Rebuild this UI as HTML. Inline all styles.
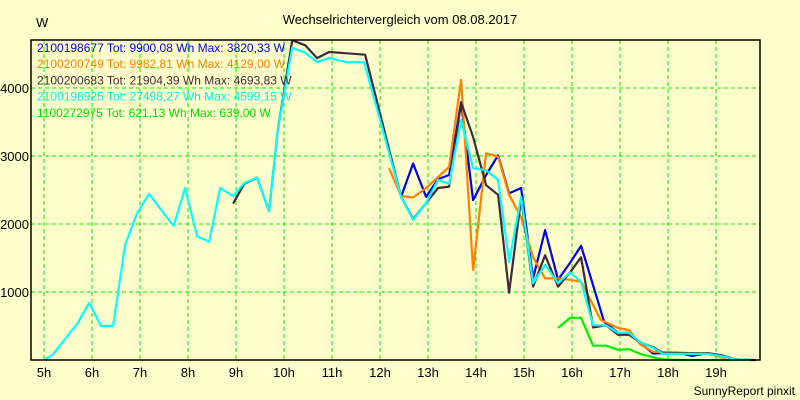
<!DOCTYPE html>
<html><head><meta charset="utf-8"><style>
body{margin:0;background:#ffffcc;}
svg{display:block;font-family:"Liberation Sans",Arial,sans-serif;}
</style></head><body>
<svg id="c" width="800" height="400" xmlns="http://www.w3.org/2000/svg">
<rect x="0" y="0" width="800" height="400" fill="#ffffcc"/>
<text x="400" y="24" font-size="13" text-anchor="middle">Wechselrichtervergleich vom 08.08.2017</text>
<text x="36" y="27" font-size="13">W</text>
<text x="795" y="395" font-size="12" text-anchor="end">SunnyReport pinxit</text>
<g id="grid"></g><g id="series"></g><g id="axes"></g><g id="legend"></g>
</svg>
<script>
const xTicks=[5,6,7,8,9,10,11,12,13,14,15,16,17,18,19];
const yTicks=[1000,2000,3000,4000];
const seriesNames=["2100198677 Tot: 9900,08 Wh Max: 3820,33 W","2100200749 Tot: 9982,81 Wh Max: 4129,00 W","2100200683 Tot: 21904,39 Wh Max: 4693,83 W","2100198925 Tot: 27498,27 Wh Max: 4599,15 W","1100272975 Tot: 621,13 Wh Max: 639,00 W"];
const seriesColors=["#0000ee","#ff8000","#40283c","#00ffff","#00ee00"];
const legendColors=["#0000ee","#ff8000","#40283c","#00eeee","#00dd00"];
const blueT=[12.44,12.69,12.96,13.21,13.44,13.69,13.94,14.21,14.46,14.69,14.94,15.19,15.44,15.71,15.96,16.19,16.67,16.96,17.19,17.42,17.69,18.19,18.5,18.83,19.1,19.4,19.7];
const blueV=[2400,2890,2400,2660,2720,3790,2350,2720,3010,2450,2530,1200,1910,1180,1430,1680,560,400,400,250,95,110,60,100,70,10,0];
const orangeT=[12.19,12.44,12.69,12.96,13.21,13.44,13.69,13.94,14.21,14.46,14.69,14.94,15.19,15.44,15.71,15.96,16.19,16.6,16.96,17.19,17.42,17.69,18.19,18.83,19.1,19.4];
const orangeV=[2820,2410,2390,2530,2690,2840,4120,1320,3040,2990,2430,2100,1510,1200,1200,1180,1150,590,470,440,230,120,110,90,40,10];
const darkT=[8.94,9.17,9.44,9.69,9.87,10.17,10.44,10.69,10.94,11.31,11.69,12.44,12.69,12.96,13.21,13.44,13.69,13.94,14.21,14.46,14.69,14.94,15.19,15.44,15.71,15.96,16.19,16.44,16.71,16.96,17.19,17.42,17.69,17.9,18.19,18.83,19.1,19.4,19.7,19.83];
const darkV=[2300,2590,2680,2190,3380,4700,4630,4440,4530,4510,4490,2400,2070,2310,2530,2550,3790,3280,2570,2430,990,2380,1080,1540,1080,1290,1510,480,510,370,370,260,190,100,100,100,70,10,0,0];
const cyanT=[5.0,5.17,5.7,5.94,6.19,6.44,6.69,6.94,7.19,7.7,7.94,8.19,8.44,8.67,8.94,9.17,9.44,9.69,9.87,10.17,10.44,10.69,10.94,11.31,11.67,12.44,12.69,12.96,13.21,13.44,13.69,13.94,14.21,14.46,14.69,14.94,15.19,15.44,15.71,15.96,16.19,16.44,16.71,16.96,17.19,17.42,17.69,17.9,18.19,18.83,19.1,19.4,19.7];
const cyanV=[0,70,540,840,500,500,1690,2160,2440,1970,2530,1820,1740,2530,2410,2600,2680,2190,3380,4590,4520,4380,4440,4380,4380,2400,2060,2310,2650,2590,3530,2820,2790,2650,1440,2400,1130,1400,1130,1290,1150,510,510,400,400,260,180,90,90,90,60,10,0];
const greenT=[15.71,15.96,16.19,16.44,16.71,16.96,17.19,17.42,17.69,17.9,18.19,19.45];
const greenV=[470,620,620,210,210,150,160,90,40,10,0,0];
const L=31,R=760,T=40,B=360;
const xs=h=>44+48*(h-5);
const ys=v=>B-v*0.068;
const NS="http://www.w3.org/2000/svg";
function mk(tag,attrs,parent){const e=document.createElementNS(NS,tag);for(const k in attrs)e.setAttribute(k,attrs[k]);parent.appendChild(e);return e;}
const grid=document.getElementById('grid'),axes=document.getElementById('axes'),ser=document.getElementById('series'),leg=document.getElementById('legend');
xTicks.forEach(h=>{
  const l=mk('line',{x1:xs(h),x2:xs(h),y1:T,y2:B,stroke:'#00ee00','stroke-dasharray':'4,3'},grid);
  
  
  const t=mk('text',{x:xs(h),y:377,'font-size':13,'text-anchor':'middle'},axes);
  t.textContent=h+'h';
  
  
});
yTicks.forEach(v=>{
  const l=mk('line',{x1:L,x2:R,y1:ys(v),y2:ys(v),stroke:'#00ee00','stroke-dasharray':'4,3'},grid);
  
  
  const t=mk('text',{x:29,y:ys(v)+5,'font-size':13,'text-anchor':'end'},axes);
  t.textContent=v;
  
  
});
const frame=mk('rect',{x:L,y:T,width:R-L,height:B-T,fill:'none',stroke:'#000','stroke-width':1.5},axes);


const data=[[blueT,blueV],[orangeT,orangeV],[darkT,darkV],[cyanT,cyanV],[greenT,greenV]];
const names=['series-2100198677','series-2100200749','series-2100200683','series-2100198925','series-1100272975'];
[0,1,2,4,3].forEach(i=>{
  const [t,v]=data[i];
  const pts=t.map((h,j)=>xs(h).toFixed(1)+','+ys(v[j]).toFixed(1)).join(' ');
  const p=mk('polyline',{points:pts,fill:'none',stroke:seriesColors[i],'stroke-width':2.2,'stroke-linejoin':'round'},ser);
  
  
});
seriesNames.forEach((n,i)=>{
  const t=mk('text',{x:37,y:52+i*16.2,'font-size':12,fill:legendColors[i]},leg);
  t.textContent=n;
  
  
});
</script>
</body></html>
